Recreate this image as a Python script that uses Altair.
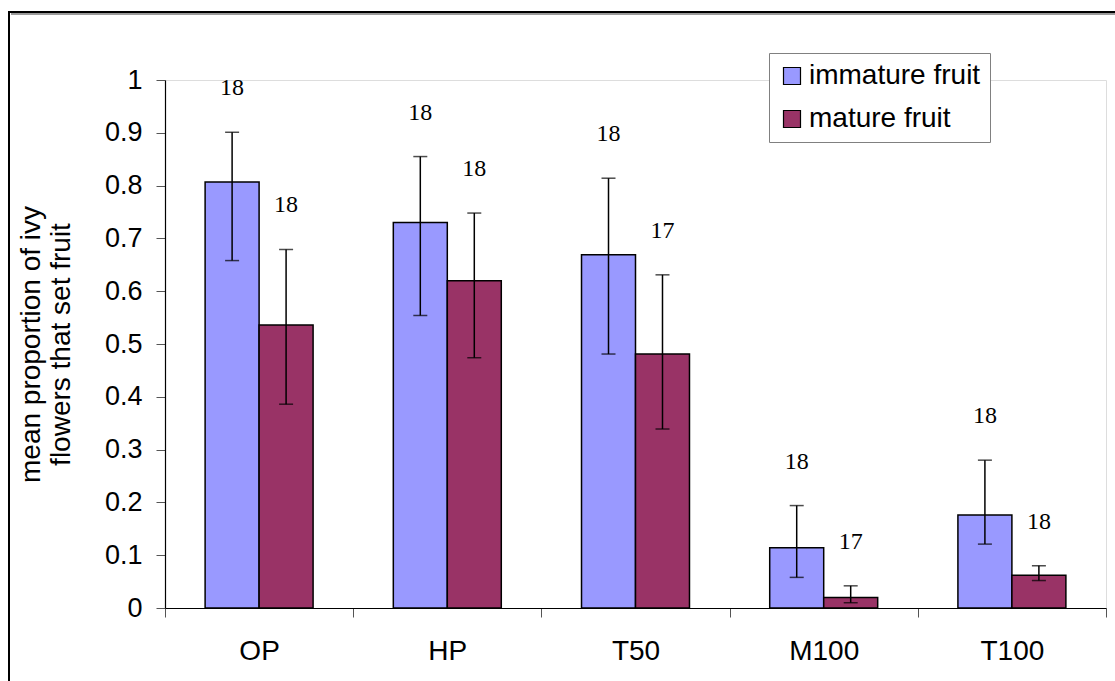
import altair as alt
import pandas as pd

groups = ["OP", "HP", "T50", "M100", "T100"]
series = ["immature fruit", "mature fruit"]
colors = ["#9999FF", "#993366"]

immature_mean = [0.807, 0.730, 0.669, 0.114, 0.176]
immature_lower = [0.658, 0.554, 0.481, 0.058, 0.121]
immature_upper = [0.901, 0.855, 0.814, 0.194, 0.280]
immature_n = [18, 18, 18, 18, 18]

mature_mean = [0.536, 0.620, 0.481, 0.020, 0.062]
mature_lower = [0.386, 0.474, 0.339, 0.010, 0.052]
mature_upper = [0.679, 0.748, 0.631, 0.042, 0.080]
mature_n = [18, 18, 17, 17, 18]

y_ticks = [0, 0.1, 0.2, 0.3, 0.4, 0.5, 0.6, 0.7, 0.8, 0.9, 1]

rows = []
for i, g in enumerate(groups):
    rows.append(dict(group=g, series=series[0], mean=immature_mean[i],
                     lower=immature_lower[i], upper=immature_upper[i], n=immature_n[i]))
    rows.append(dict(group=g, series=series[1], mean=mature_mean[i],
                     lower=mature_lower[i], upper=mature_upper[i], n=mature_n[i]))
df = pd.DataFrame(rows)

SANS = "Liberation Sans"
SERIF = "Liberation Serif"

x_axis = alt.Axis(title="", labelAngle=0, tickBand="extent", labelFont=SANS,
                  labelFontSize=28, labelColor="black", labelPadding=20,
                  tickSize=9, tickColor="#555555", domainColor="black",
                  domainWidth=1.2, grid=False)
x_enc = alt.X("group:N", sort=groups,
              scale=alt.Scale(paddingInner=0, paddingOuter=0), axis=x_axis)
xo_enc = alt.XOffset("series:N", sort=series,
                     scale=alt.Scale(paddingInner=0, paddingOuter=0.743))

y_title = ["mean proportion of ivy", "flowers that set fruit"]
y_axis = alt.Axis(title=y_title, values=y_ticks, format="~g", grid=False,
                  labelFont=SANS, labelFontSize=27, labelColor="black",
                  labelPadding=14, tickSize=9, tickColor="#555555",
                  domainColor="black", domainWidth=1.2,
                  titleFont=SANS, titleFontSize=28, titleFontWeight="normal",
                  titleColor="black", titlePadding=29, titleLineHeight=30)
y_scale = alt.Scale(domain=[0, 1], nice=False)

base = alt.Chart(df)

bars = base.mark_bar(stroke="black", strokeWidth=1.5).encode(
    x=x_enc,
    xOffset=xo_enc,
    y=alt.Y("mean:Q", scale=y_scale, axis=y_axis),
    color=alt.Color("series:N", sort=series,
                    scale=alt.Scale(domain=series, range=colors),
                    legend=alt.Legend(title="", orient="none", legendX=604, legendY=-27,
                                      labelFont=SANS, labelFontSize=28, labelColor="black",
                                      symbolType="square", symbolSize=289,
                                      symbolStrokeColor="black", symbolStrokeWidth=1.2,
                                      strokeColor="#808080", fillColor="white",
                                      padding=9, rowPadding=15, labelOffset=3,
                                      labelLimit=400)),
)

err = base.mark_rule(color="black", strokeWidth=1.5).encode(
    x=x_enc, xOffset=xo_enc,
    y=alt.Y("lower:Q", scale=y_scale, axis=y_axis),
    y2="upper:Q",
)

cap_hi = base.mark_tick(color="black", thickness=1.5, size=14, orient="horizontal").encode(
    x=x_enc, xOffset=xo_enc,
    y=alt.Y("upper:Q", scale=y_scale, axis=y_axis),
)
cap_lo = base.mark_tick(color="black", thickness=1.5, size=14, orient="horizontal").encode(
    x=x_enc, xOffset=xo_enc,
    y=alt.Y("lower:Q", scale=y_scale, axis=y_axis),
)

labels = base.mark_text(font=SERIF, fontSize=24, dy=-44, baseline="middle",
                        color="black").encode(
    x=x_enc, xOffset=xo_enc,
    y=alt.Y("upper:Q", scale=y_scale, axis=y_axis),
    text="n:Q",
)

frame_shadow = alt.Chart(df).mark_rule(color="#999999", strokeWidth=1.5).encode(
    x=alt.value(-154), x2=alt.value(960), y=alt.value(-66.5))
frame_top = alt.Chart(df).mark_rule(color="black", strokeWidth=2).encode(
    x=alt.value(-156), x2=alt.value(960), y=alt.value(-68))
frame_left = alt.Chart(df).mark_rule(color="black", strokeWidth=1.5).encode(
    x=alt.value(-156), y=alt.value(-69), y2=alt.value(620))

chart = alt.layer(bars, err, cap_hi, cap_lo, labels, frame_shadow, frame_top,
                  frame_left).properties(
    width=941, height=528,
    autosize=alt.AutoSizeParams(type="none"),
    padding={"left": 165, "top": 80, "right": 9, "bottom": 73},
).configure_view(stroke=None).configure(background="white")

chart.save("out.html", embed_options={"renderer": "svg", "actions": False})
